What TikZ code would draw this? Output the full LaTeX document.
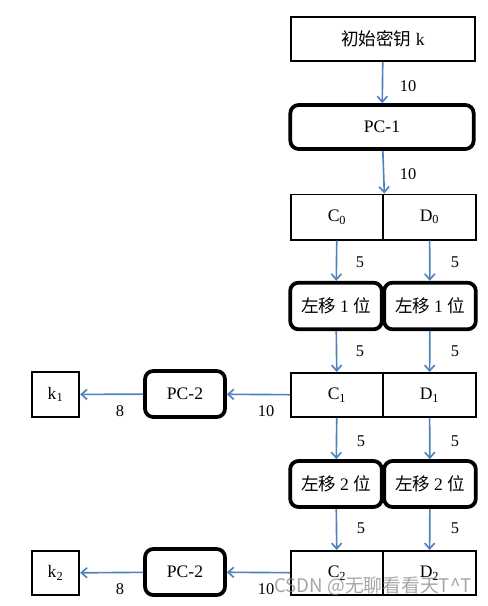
\documentclass[tikz,border=0pt]{standalone}
\usepackage{fontspec}
\setmainfont{Liberation Serif}
\newfontfamily\cjk{Noto Sans CJK SC}
\usetikzlibrary{arrows.meta}
\definecolor{flowblue}{RGB}{79,129,189}

\begin{document}
\begin{tikzpicture}[x=0.03cm, y=-0.03cm, >={Straight Barb[length=1.7mm,width=3mm]},
  font=\fontsize{15pt}{17pt}\selectfont,
  plainbox/.style={draw, line width=1.7pt, inner sep=0, minimum height=1.3cm},
  roundbox/.style={draw, line width=3.2pt, rounded corners=0.25cm, inner sep=0},
  flow/.style={->, line width=1.4pt, color=flowblue},
  num/.style={font=\fontsize{14pt}{16pt}\selectfont}]

\useasboundingbox (0,0) rectangle (488,606);

\node[plainbox, minimum width=5.5cm, minimum height=1.32cm] (key) at (383,39) {{\cjk 初始密钥} k};
\node[roundbox, minimum width=5.5cm, minimum height=1.32cm] (pc1) at (382,127) {PC-1};

\node[plainbox, minimum width=2.78cm, minimum height=1.35cm] (c0) at (337,217) {C\textsubscript{0}};
\node[plainbox, minimum width=2.76cm, minimum height=1.35cm] (d0) at (429.5,217) {D\textsubscript{0}};

\node[roundbox, minimum width=2.75cm, minimum height=1.4cm] (s1c) at (336,306) {\cjk 左移 \rmfamily 1 \cjk 位};
\node[roundbox, minimum width=2.75cm, minimum height=1.4cm] (s1d) at (430,306) {\cjk 左移 \rmfamily 1 \cjk 位};

\node[plainbox, minimum width=2.76cm, minimum height=1.32cm] (c1) at (337,395) {C\textsubscript{1}};
\node[plainbox, minimum width=2.76cm, minimum height=1.32cm] (d1) at (429.5,395) {D\textsubscript{1}};

\node[roundbox, minimum width=2.75cm, minimum height=1.38cm] (s2c) at (336,484) {\cjk 左移 \rmfamily 2 \cjk 位};
\node[roundbox, minimum width=2.75cm, minimum height=1.38cm] (s2d) at (430,484) {\cjk 左移 \rmfamily 2 \cjk 位};

\node[plainbox, minimum width=2.76cm, minimum height=1.32cm] (c2) at (337,573) {C\textsubscript{2}};
\node[plainbox, minimum width=2.76cm, minimum height=1.32cm] (d2) at (429.5,573) {D\textsubscript{2}};

\node[roundbox, minimum width=2.4cm, minimum height=1.38cm] (pc2a) at (185,394) {PC-2};
\node[roundbox, minimum width=2.4cm, minimum height=1.38cm] (pc2b) at (185,572) {PC-2};

\node[plainbox, minimum width=1.42cm, minimum height=1.35cm] (k1) at (55.5,394.5) {k\textsubscript{1}};
\node[plainbox, minimum width=1.42cm, minimum height=1.32cm] (k2) at (55.5,573) {k\textsubscript{2}};

\draw[flow] (key) -- (pc1);
\draw[flow] (pc1) -- (c0.north east);
\draw[flow] (c0) -- (s1c);
\draw[flow] (d0) -- (s1d);
\draw[flow] (s1c) -- (c1);
\draw[flow] (s1d) -- (d1);
\draw[flow] (c1) -- (s2c);
\draw[flow] (d1) -- (s2d);
\draw[flow] (s2c) -- (c2);
\draw[flow] (s2d) -- (d2);
\draw[flow] (c1) -- (pc2a);
\draw[flow] (pc2a) -- (k1);
\draw[flow] (c2) -- (pc2b);
\draw[flow] (pc2b) -- (k2);

\node[num] (n10a) at (408,86) {10};
\node[num] (n10b) at (408,174) {10};
\node[num] (n5a) at (360,262) {5};
\node[num] (n5b) at (455,262) {5};
\node[num] (n5c) at (360,351) {5};
\node[num] (n5d) at (455,351) {5};
\node[num] (n5e) at (361,441) {5};
\node[num] (n5f) at (455,441) {5};
\node[num] (n5g) at (361,528) {5};
\node[num] (n5h) at (455,528) {5};
\node[num] (n8a) at (120,411) {8};
\node[num] (n8b) at (120,589) {8};
\node[num] (n10c) at (266,411) {10};
\node[num] (n10d) at (266,589) {10};

\node[text=gray, opacity=0.7, font=\cjk\fontsize{16pt}{18pt}\selectfont] (mark) at (373,586) {CSDN @无聊看看天T\textasciicircum T};

\end{tikzpicture}
\end{document}
